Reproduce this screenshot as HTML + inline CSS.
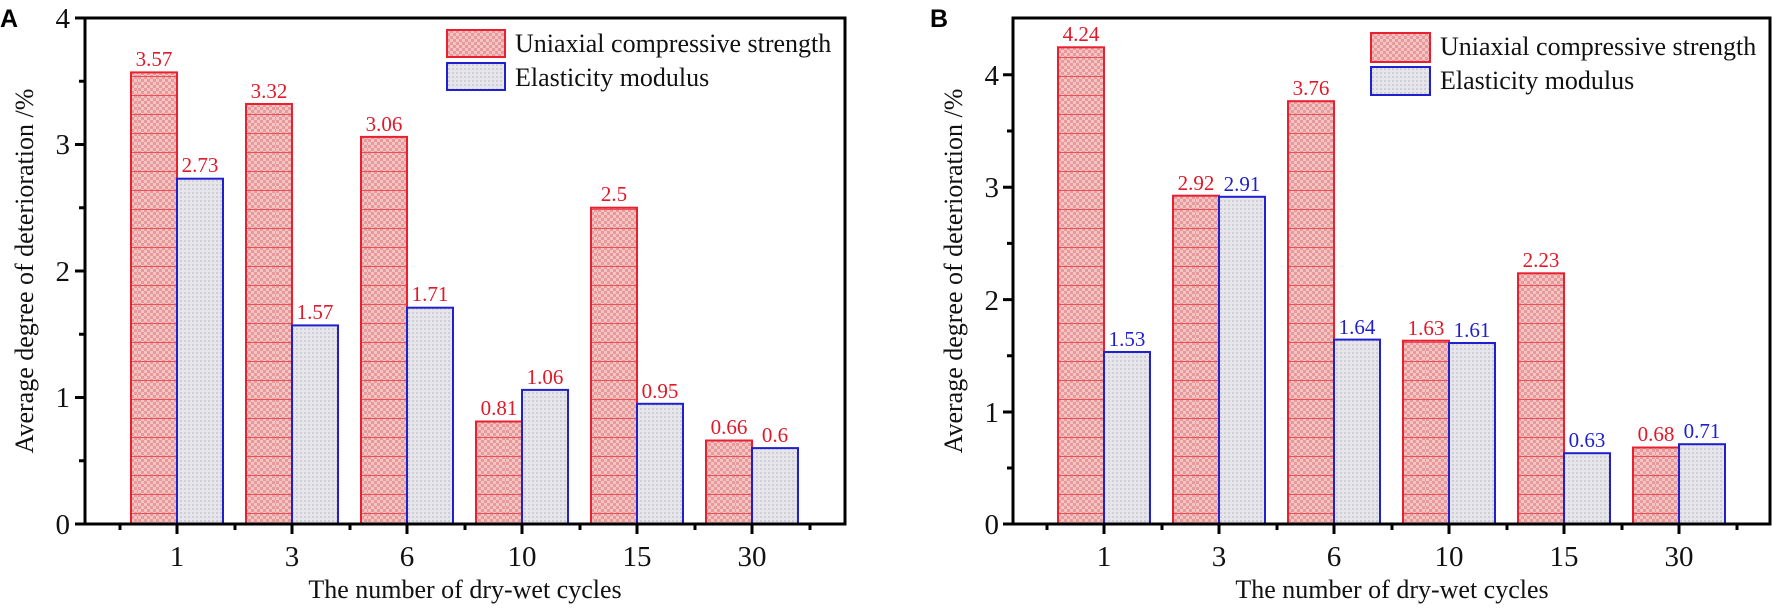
<!DOCTYPE html>
<html><head><meta charset="utf-8"><style>html,body{margin:0;padding:0;background:#fff}svg{display:block}</style></head><body>
<svg width="1772" height="608" xmlns="http://www.w3.org/2000/svg" font-family="Liberation Serif, serif">
<defs>
<pattern id="pr" width="6" height="6" patternUnits="userSpaceOnUse"><rect width="6" height="6" fill="#f3c4c4"/><rect x="0" y="0" width="3" height="3" fill="#e89a9a"/><rect x="3" y="3" width="3" height="3" fill="#e89a9a"/></pattern>
<pattern id="prl" width="46" height="19" patternUnits="userSpaceOnUse"><rect width="46" height="19" fill="url(#pr)"/><line x1="0" y1="0.5" x2="46" y2="0.5" stroke="#e8505a" stroke-width="1"/></pattern>
<pattern id="pb" width="4" height="4" patternUnits="userSpaceOnUse"><rect width="4" height="4" fill="#e6e6ea"/><rect x="0" y="0" width="2" height="2" fill="#cfcfd6"/></pattern>
</defs>
<g stroke-width="2">
<!-- Panel A bars -->
<g fill="url(#prl)" stroke="#e82030">
<rect x="131" y="72.4" width="46" height="451.6"/>
<rect x="246" y="104" width="46" height="420"/>
<rect x="361" y="136.9" width="46" height="387.1"/>
<rect x="476" y="421.5" width="46" height="102.5"/>
<rect x="591" y="207.7" width="46" height="316.3"/>
<rect x="706" y="440.5" width="46" height="83.5"/>
</g>
<g fill="url(#pb)" stroke="#2020d0">
<rect x="177" y="178.7" width="46" height="345.3"/>
<rect x="292" y="325.4" width="46" height="198.6"/>
<rect x="407" y="307.7" width="46" height="216.3"/>
<rect x="522" y="389.9" width="46" height="134.1"/>
<rect x="637" y="403.8" width="46" height="120.2"/>
<rect x="752" y="448.1" width="46" height="75.9"/>
</g>
<!-- Panel B bars -->
<g fill="url(#prl)" stroke="#e82030">
<rect x="1058" y="47.3" width="46" height="476.7"/>
<rect x="1173" y="195.7" width="46" height="328.3"/>
<rect x="1288" y="101.2" width="46" height="422.8"/>
<rect x="1403" y="340.7" width="46" height="183.3"/>
<rect x="1518" y="273.3" width="46" height="250.7"/>
<rect x="1633" y="447.5" width="46" height="76.5"/>
</g>
<g fill="url(#pb)" stroke="#2020d0">
<rect x="1104" y="352" width="46" height="172"/>
<rect x="1219" y="196.8" width="46" height="327.2"/>
<rect x="1334" y="339.6" width="46" height="184.4"/>
<rect x="1449" y="343" width="46" height="181"/>
<rect x="1564" y="453.2" width="46" height="70.8"/>
<rect x="1679" y="444.2" width="46" height="79.8"/>
</g>
</g>
<!-- value labels -->
<g font-size="21" text-anchor="middle" fill="#e01828">
<text x="154" y="66">3.57</text><text x="200" y="172">2.73</text>
<text x="269" y="98">3.32</text><text x="315" y="319">1.57</text>
<text x="384" y="131">3.06</text><text x="430" y="301">1.71</text>
<text x="499" y="415">0.81</text><text x="545" y="384">1.06</text>
<text x="614" y="201">2.5</text><text x="660" y="398">0.95</text>
<text x="729" y="434">0.66</text><text x="775" y="442">0.6</text>
<text x="1081" y="41">4.24</text><text x="1196" y="190">2.92</text><text x="1311" y="95">3.76</text>
<text x="1426" y="335">1.63</text><text x="1541" y="267">2.23</text><text x="1656" y="441">0.68</text>
</g>
<g font-size="21" text-anchor="middle" fill="#2020d0">
<text x="1127" y="346">1.53</text><text x="1242" y="191">2.91</text><text x="1357" y="334">1.64</text>
<text x="1472" y="337">1.61</text><text x="1587" y="447">0.63</text><text x="1702" y="438">0.71</text>
</g>
<!-- axes -->
<g fill="none" stroke="#000" stroke-width="3">
<rect x="85" y="18" width="760" height="506"/>
<rect x="1013" y="18" width="757" height="506"/>
<path d="M85 18h-10M85 144.5h-10M85 271h-10M85 397.5h-10M85 524h-10M85 81.3h-6M85 207.8h-6M85 334.3h-6M85 460.8h-6"/>
<path d="M177 524v10M292 524v10M407 524v10M522 524v10M637 524v10M752 524v10M120 524v6M235 524v6M350 524v6M465 524v6M580 524v6M695 524v6M810 524v6"/>
<path d="M1013 74.8h-10M1013 187.2h-10M1013 299.6h-10M1013 412h-10M1013 524h-10M1013 131h-6M1013 243.4h-6M1013 355.8h-6M1013 468h-6"/>
<path d="M1104 524v10M1219 524v10M1334 524v10M1449 524v10M1564 524v10M1679 524v10M1047 524v6M1162 524v6M1277 524v6M1392 524v6M1507 524v6M1622 524v6M1737 524v6"/>
</g>
<!-- tick labels -->
<g font-size="29" fill="#111">
<g text-anchor="end">
<text x="70" y="28">4</text><text x="70" y="154">3</text><text x="70" y="281">2</text><text x="70" y="407">1</text><text x="70" y="534">0</text>
<text x="999" y="85">4</text><text x="999" y="197">3</text><text x="999" y="310">2</text><text x="999" y="422">1</text><text x="999" y="534">0</text>
</g>
<g text-anchor="middle">
<text x="177" y="566">1</text><text x="292" y="566">3</text><text x="407" y="566">6</text><text x="522" y="566">10</text><text x="637" y="566">15</text><text x="752" y="566">30</text>
<text x="1104" y="566">1</text><text x="1219" y="566">3</text><text x="1334" y="566">6</text><text x="1449" y="566">10</text><text x="1564" y="566">15</text><text x="1679" y="566">30</text>
</g>
</g>
<g font-size="26" fill="#111" text-anchor="middle">
<text x="465" y="598">The number of dry-wet cycles</text>
<text x="1392" y="598">The number of dry-wet cycles</text>
<text transform="translate(33,271) rotate(-90)">Average degree of deterioration /%</text>
<text transform="translate(962,271) rotate(-90)">Average degree of deterioration /%</text>
</g>
<!-- legends -->
<g stroke-width="2">
<rect x="447" y="30" width="58" height="27" fill="url(#pr)" stroke="#e82030"/>
<rect x="447" y="63" width="58" height="27" fill="url(#pb)" stroke="#2020d0"/>
<rect x="1371" y="33" width="59" height="29" fill="url(#pr)" stroke="#e82030"/>
<rect x="1371" y="67" width="59" height="28" fill="url(#pb)" stroke="#2020d0"/>
</g>
<g font-size="26" fill="#111">
<text x="515" y="52">Uniaxial compressive strength</text>
<text x="515" y="86">Elasticity modulus</text>
<text x="1440" y="55">Uniaxial compressive strength</text>
<text x="1440" y="89">Elasticity modulus</text>
</g>
<g font-family="Liberation Sans, sans-serif" font-weight="bold" font-size="25" fill="#000">
<text x="0" y="27">A</text>
<text x="930" y="27">B</text>
</g>
</svg>
</body></html>
